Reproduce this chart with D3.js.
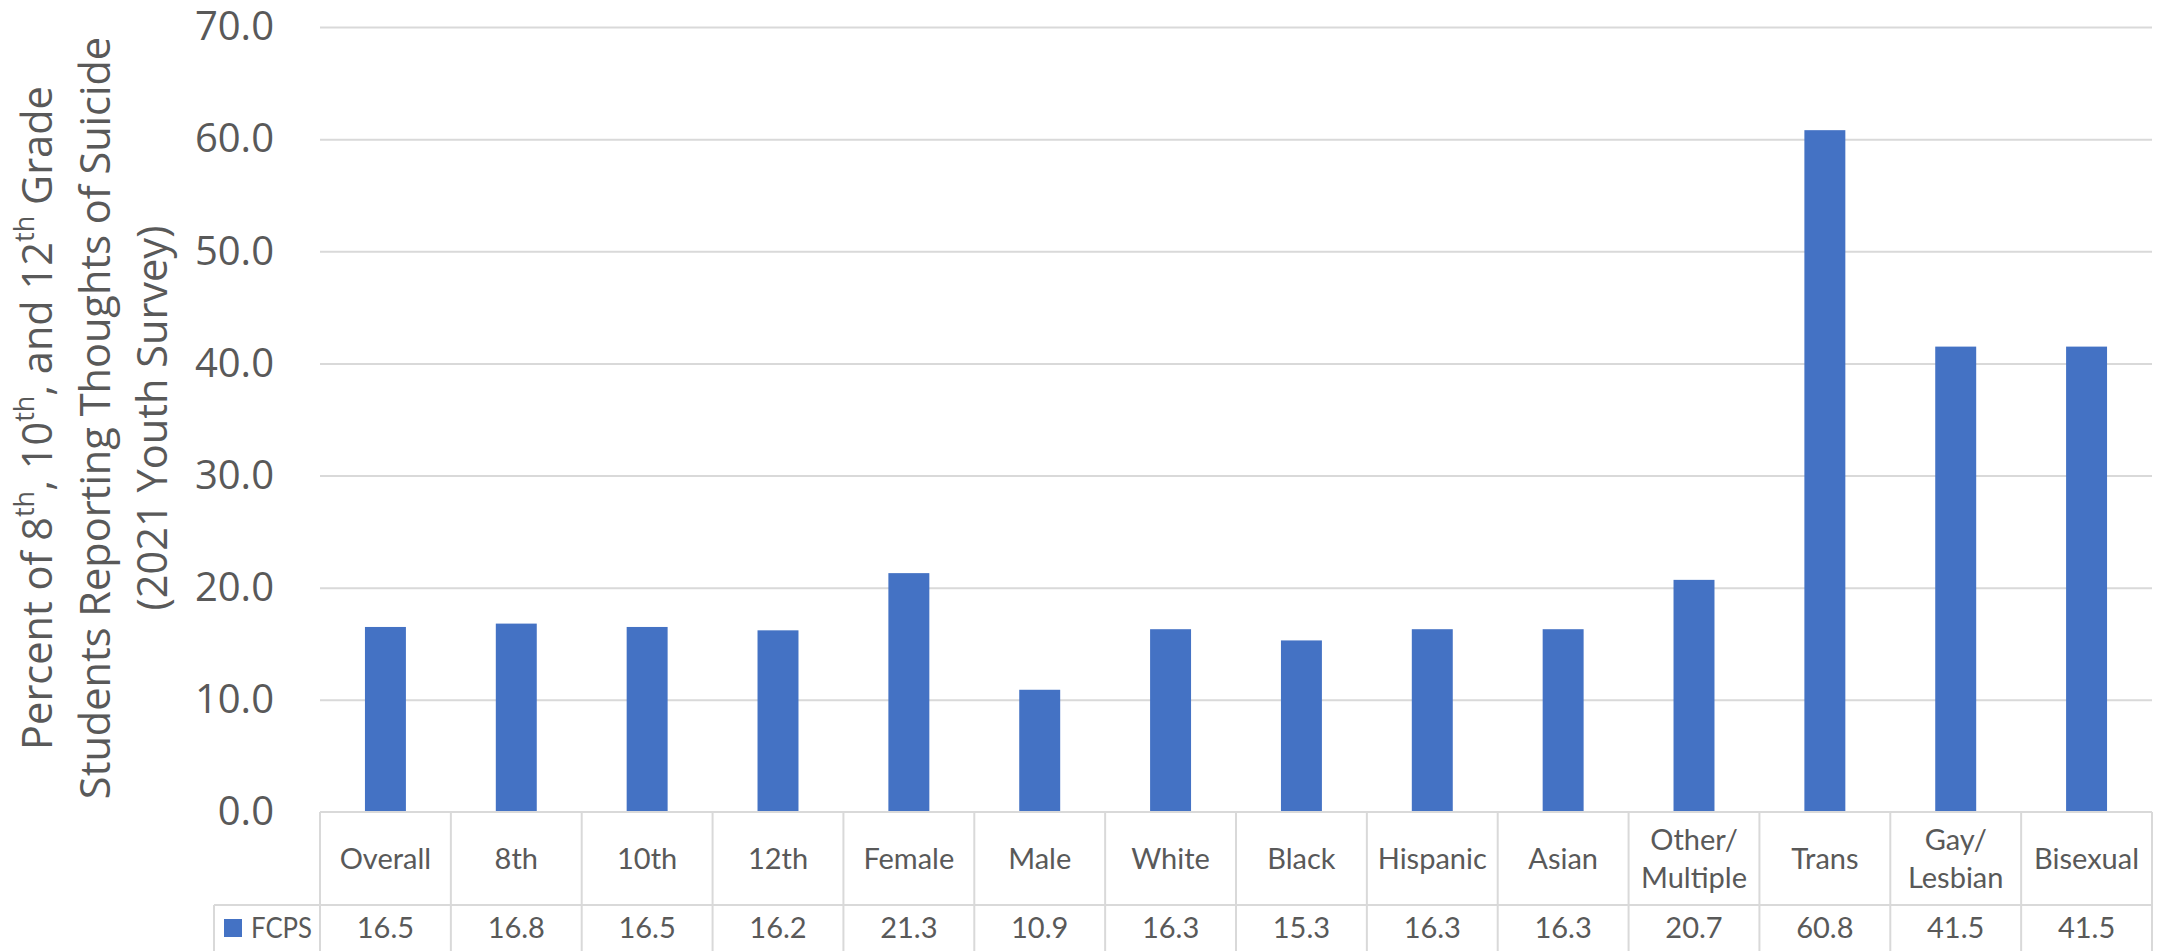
<!DOCTYPE html>
<html>
<head>
<meta charset="utf-8">
<script src="https://cdn.jsdelivr.net/npm/d3@7/dist/d3.min.js"></script>
<style>
  html, body { margin: 0; padding: 0; background: #ffffff; }
  svg { display: block; }
</style>
</head>
<body>
<svg id="chart" width="2165" height="951"></svg>
<script>
// Categories (line breaks marked with \n), series values and axis ticks
const categories = ["Overall", "8th", "10th", "12th", "Female", "Male", "White", "Black",
  "Hispanic", "Asian", "Other/\nMultiple", "Trans", "Gay/\nLesbian", "Bisexual"];
const seriesName = "FCPS";
const fcpsValues = [16.5, 16.8, 16.5, 16.2, 21.3, 10.9, 16.3, 15.3, 16.3, 16.3, 20.7, 60.8, 41.5, 41.5];
const yTicks = [0, 10, 20, 30, 40, 50, 60, 70];
const titleLines = [
  [["Percent of 8", false], ["th", true], [", 10", false], ["th", true], [", and 12", false], ["th", true], [" Grade", false]],
  [["Students Reporting Thoughts of Suicide", false]],
  [["(2021 Youth Survey)", false]]
];

const W = 2165, H = 951;
const plot = { left: 320, right: 2152, top: 27, bottom: 812 };
const rowSplit = 905, tableBottom = 990, legendLeft = 214;
const barColor = "#4472C4", textColor = "#595959", lineColor = "#D9D9D9";
const tableFont = "Lato, 'Open Sans', sans-serif";
const axisFont = "'Open Sans', 'Noto Sans', sans-serif";

const svg = d3.select("#chart");

const x = d3.scaleBand()
  .domain(categories)
  .range([plot.left, plot.right])
  .paddingInner(0.687)
  .paddingOuter(0.3435);

const y = d3.scaleLinear()
  .domain([0, 70])
  .range([plot.bottom, plot.top]);

// Horizontal gridlines
const grid = svg.append("g")
  .attr("transform", `translate(${plot.left},0)`)
  .call(d3.axisLeft(y).tickValues(yTicks.filter(t => t > 0)).tickSize(-(plot.right - plot.left)).tickFormat(""));
grid.select(".domain").remove();
grid.selectAll(".tick line").attr("stroke", lineColor).attr("stroke-width", 2);

// Y tick labels
const yAxis = svg.append("g")
  .attr("transform", `translate(274,0)`)
  .call(d3.axisLeft(y).tickValues(yTicks).tickSize(0).tickPadding(0).tickFormat(d3.format(".1f")));
yAxis.select(".domain").remove();
yAxis.selectAll("text")
  .attr("fill", textColor)
  .style("font-family", axisFont)
  .style("font-size", "40px");

// Bars
svg.append("g").selectAll("rect")
  .data(fcpsValues)
  .join("rect")
  .attr("x", (d, i) => x(categories[i]))
  .attr("width", x.bandwidth())
  .attr("y", d => y(d))
  .attr("height", d => y(0) - y(d))
  .attr("fill", barColor);

// Data table beneath the plot
const step = x.step();
const table = svg.append("g").attr("stroke", lineColor).attr("stroke-width", 2).attr("fill", "none");
table.append("line").attr("x1", plot.left).attr("x2", plot.right).attr("y1", y(0)).attr("y2", y(0));
table.append("line").attr("x1", legendLeft).attr("x2", plot.right).attr("y1", rowSplit).attr("y2", rowSplit);
table.append("line").attr("x1", legendLeft).attr("x2", legendLeft).attr("y1", rowSplit).attr("y2", tableBottom);
table.selectAll("line.col")
  .data(d3.range(categories.length + 1))
  .join("line")
  .attr("class", "col")
  .attr("x1", i => plot.left + i * step)
  .attr("x2", i => plot.left + i * step)
  .attr("y1", y(0))
  .attr("y2", tableBottom);

// Category labels
const catRowMid = (y(0) + rowSplit) / 2;
const lineGap = 38;
const catLabels = svg.append("g")
  .style("font-family", tableFont)
  .style("font-size", "29px")
  .attr("fill", textColor)
  .attr("text-anchor", "middle");
categories.forEach(c => {
  const parts = c.split("\n");
  const t = catLabels.append("text")
    .attr("x", x(c) + x.bandwidth() / 2);
  parts.forEach((p, j) => {
    t.append("tspan")
      .attr("x", x(c) + x.bandwidth() / 2)
      .attr("y", catRowMid + 10.5 + (j - (parts.length - 1) / 2) * lineGap)
      .text(p);
  });
});

// Value row
const valRow = svg.append("g")
  .style("font-family", tableFont)
  .style("font-size", "29px")
  .attr("fill", textColor)
  .attr("text-anchor", "middle");
valRow.selectAll("text")
  .data(fcpsValues)
  .join("text")
  .attr("x", (d, i) => x(categories[i]) + x.bandwidth() / 2)
  .attr("y", 938)
  .text(d => d3.format(".1f")(d));

// Legend key
svg.append("rect")
  .attr("x", 224).attr("y", 919).attr("width", 18).attr("height", 18)
  .attr("fill", barColor);
svg.append("text")
  .attr("x", 251).attr("y", 938)
  .attr("textLength", 61)
  .attr("lengthAdjust", "spacingAndGlyphs")
  .style("font-family", tableFont)
  .style("font-size", "29px")
  .attr("fill", textColor)
  .text(seriesName);

// Y axis title (three rotated lines)
const titleCenterY = 418;
const titleBaselines = [52, 110, 167];
titleLines.forEach((segs, i) => {
  const t = svg.append("text")
    .attr("transform", `translate(${titleBaselines[i]},${titleCenterY}) rotate(-90)`)
    .attr("text-anchor", "middle")
    .style("font-family", axisFont)
    .style("font-size", "41.5px")
    .attr("fill", textColor);
  segs.forEach(([s, sup]) => {
    const ts = t.append("tspan").text(s);
    if (sup) ts.attr("baseline-shift", "super").style("font-size", "27px");
  });
});
</script>
</body>
</html>
